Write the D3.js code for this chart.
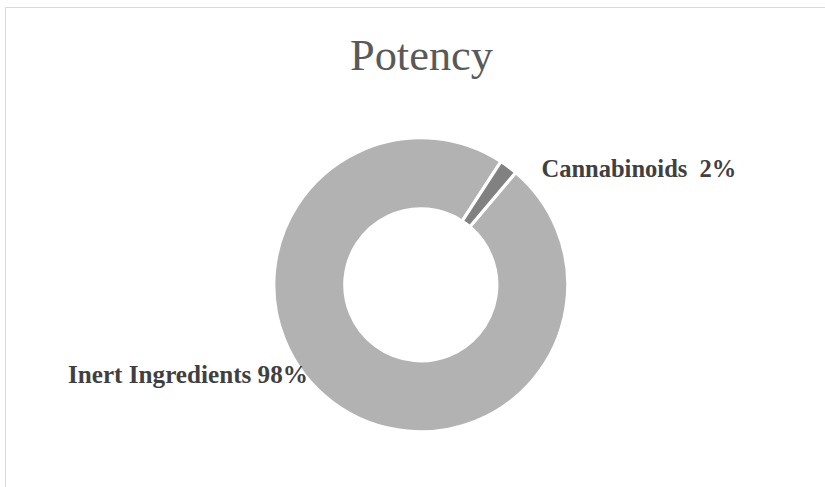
<!DOCTYPE html>
<html>
<head>
<meta charset="utf-8">
<script src="https://cdn.jsdelivr.net/npm/d3@7"></script>
<style>
  html, body { margin: 0; padding: 0; background: #fff; }
  svg { display: block; }
  text { white-space: pre; }
</style>
</head>
<body>
<svg id="chart" width="825" height="487"></svg>
<script>
// ---- data ----
const categories = ["Inert Ingredients", "Cannabinoids"];
const values = [98, 2];
const labels = ["Inert Ingredients 98%", "Cannabinoids  2%"];
const title = "Potency";

// ---- layout ----
const W = 825, H = 487;
const cx = 420.8, cy = 284.8;
const rOuter = 147, rInner = 76;
const startDeg = 40.2;
const colors = ["#b2b2b2", "#818181"];
const serif = "'Liberation Serif', 'Times New Roman', serif";

const svg = d3.select("#chart");

// frame
svg.append("rect")
  .attr("x", 5.5).attr("y", 7.5)
  .attr("width", W + 10).attr("height", H + 10)
  .attr("fill", "none").attr("stroke", "#d9d9d9").attr("stroke-width", 1);

function fitText(sel, targetW) {
  const node = sel.node();
  sel.attr("font-size", 100);
  const w = node.getComputedTextLength();
  sel.attr("font-size", 100 * targetW / w);
}

// title
const t = svg.append("text")
  .attr("x", 350).attr("y", 70)
  .attr("font-family", serif)
  .attr("fill", "#595959")
  .text(title);
fitText(t, 143);

// donut
const pie = d3.pie().sort(null).value(d => d)
  .startAngle(startDeg * Math.PI / 180)
  .endAngle(startDeg * Math.PI / 180 + 2 * Math.PI);
const arc = d3.arc().innerRadius(rInner).outerRadius(rOuter);

const g = svg.append("g").attr("transform", `translate(${cx},${cy})`);
g.selectAll("path")
  .data(pie(values))
  .join("path")
  .attr("d", arc)
  .attr("fill", (d, i) => colors[i])
  .attr("stroke", "#ffffff")
  .attr("stroke-width", 3.2)
  .attr("stroke-linejoin", "round");

// labels
const labelPos = [
  { x: 68, y: 382.5, w: 240 },
  { x: 541.5, y: 176.7, w: 195 }
];
labels.forEach((txt, i) => {
  const l = svg.append("text")
    .attr("x", labelPos[i].x).attr("y", labelPos[i].y)
    .attr("xml:space", "preserve")
    .attr("font-family", serif)
    .attr("font-weight", "bold")
    .attr("fill", "#404040")
    .text(txt);
  fitText(l, labelPos[i].w);
});
</script>
</body>
</html>
